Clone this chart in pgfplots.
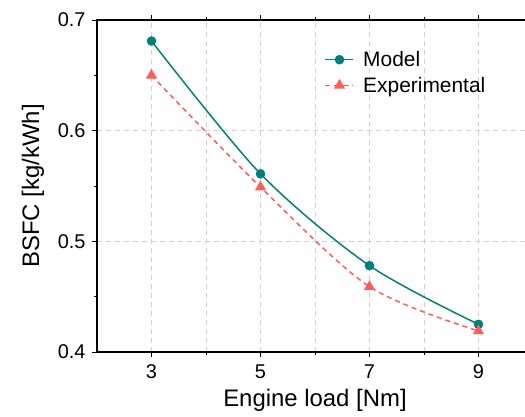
\documentclass[border=0pt]{standalone}
\usepackage{fontspec}
\setmainfont{Liberation Sans}
\usepackage{pgfplots}
\pgfplotsset{compat=1.18}
\definecolor{modelc}{RGB}{0,128,124}
\definecolor{expc}{RGB}{255,92,92}
\definecolor{gridc}{RGB}{208,208,208}

\begin{document}
\begin{tikzpicture}
\path[use as bounding box] (-97bp,-65bp) rectangle (428bp,352bp);
\clip (-97bp,-65bp) rectangle (428bp,352bp);
\begin{axis}[
    at={(0,0)}, anchor=origin,
    scale only axis,
    width=436bp, height=332bp,
    xmin=2, xmax=10,
    ymin=0.4, ymax=0.7,
    xtick={3,5,7,9},
    minor xtick={4,6,8},
    ytick={0.4,0.5,0.6,0.7},
    minor ytick={0.45,0.55,0.65},
    yticklabel style={/pgf/number format/fixed, /pgf/number format/precision=1, /pgf/number format/fixed zerofill},
    /pgf/number format/assume math mode=true,
    tick label style={font=\fontsize{20}{24}\selectfont, text=black},
    xticklabel style={yshift=-4bp},
    yticklabel style={xshift=-3bp},
    tick align=outside,
    major tick length=5bp,
    minor tick length=3bp,
    tick style={black, line width=0.9bp},
    axis line style={line width=1.1bp, black},
    xmajorgrids, xminorgrids, ymajorgrids,
    grid style={gridc, dash pattern=on 5bp off 4bp, line width=0.8bp},
    minor grid style={gridc, dash pattern=on 5bp off 4bp, line width=0.8bp},
    xlabel={Engine load [Nm]},
    ylabel={BSFC [kg/kWh]},
    label style={font=\fontsize{24}{28}\selectfont},
    xlabel style={at={(axis description cs:0.5,-0.145)}, anchor=center},
    ylabel style={at={(axis description cs:-0.147,0.5)}, anchor=center},
    legend style={draw=none, fill=none, font=\fontsize{21}{25}\selectfont,
        at={(axis description cs:0.515,0.918)}, anchor=north west,
        row sep=5bp, cells={anchor=west}},
    legend image code/.code={
        \draw[mark repeat=2, mark phase=2] plot coordinates {(0bp,0bp) (14bp,0bp) (28bp,0bp)};
    },
    clip=false,
]
\addplot[modelc, line width=1.5bp, smooth, mark=*, mark size=4bp, mark options={solid, fill=modelc}]
    coordinates {(3,0.681) (5,0.561) (7,0.478) (9,0.425)};
\addplot[expc, line width=1.5bp, smooth, dash pattern=on 5bp off 4bp, mark=triangle*, mark size=5bp, mark options={solid, fill=expc}]
    coordinates {(3,0.650) (5,0.549) (7,0.459) (9,0.419)};
\legend{\hspace{7bp}Model, \hspace{7bp}Experimental}
\end{axis}
\end{tikzpicture}
\end{document}
